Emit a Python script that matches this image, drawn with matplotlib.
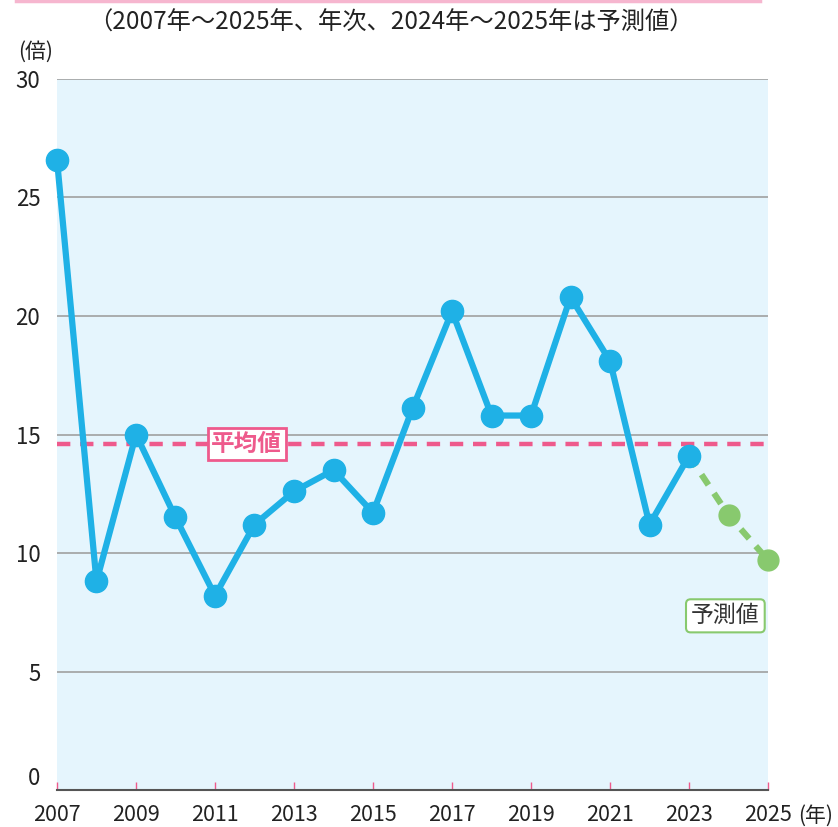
import matplotlib
matplotlib.use("Agg")
import matplotlib.pyplot as plt
from matplotlib.lines import Line2D

plt.rcParams['font.family'] = ['Noto Sans CJK JP', 'DejaVu Sans']

# データ
years = list(range(2007, 2024))
values = [26.6, 8.8, 15.0, 11.5, 8.2, 11.2, 12.6, 13.5, 11.7,
          16.1, 20.2, 15.8, 15.8, 20.8, 18.1, 11.2, 14.1]
pred_years = [2023, 2024, 2025]
pred_values = [14.1, 11.6, 9.7]
avg_value = 14.6
tick_years = list(range(2007, 2026, 2))
yticks = [0, 5, 10, 15, 20, 25, 30]

blue = '#1FB1E6'
green = '#88C96E'
pink = '#EE5A8C'

fig = plt.figure(figsize=(8.38, 8.27), dpi=100)
ax = fig.add_axes([0.068, 0.0447, 0.8485, 0.8598])
ax.set_facecolor('#E5F5FD')

ax.set_xlim(2007, 2025)
ax.set_ylim(0, 30)
ax.set_yticks(yticks)
ax.set_xticks(tick_years)
ax.grid(axis='y', color='#A0A0A0', linewidth=1.2, zorder=1)
ax.set_axisbelow(True)

for s in ['top', 'right', 'left']:
    ax.spines[s].set_visible(False)
ax.spines['bottom'].set_color('#555555')
ax.spines['bottom'].set_linewidth(1.5)

ax.tick_params(axis='y', length=0, labelsize=16, pad=12, colors='#222222')
ax.tick_params(axis='x', direction='in', length=6, color=pink, width=1,
               labelsize=15.5, pad=10, labelcolor='#222222')
# 0のラベルを少し上へ
ax.get_yticklabels()[0].set_va('bottom')
ax.get_yticklabels()[0].set_y(-0.3)

# 平均値
ax.axhline(avg_value, color=pink, linewidth=3.2, dashes=(3, 2.2), zorder=2)
ax.text(2011.8, avg_value, '平均値', color=pink, fontsize=17, fontweight='bold',
        ha='center', va='center', zorder=3,
        bbox=dict(boxstyle='square,pad=0.15', fc='white', ec=pink, lw=2))

# 実績
ax.plot(years, values, color=blue, linewidth=4.5, marker='o', markersize=16,
        zorder=5, clip_on=False)
# 予測
ax.plot(pred_years, pred_values, color=green, linewidth=4.5, dashes=(2, 1.6),
        zorder=4, clip_on=False)
ax.plot(pred_years[1:], pred_values[1:], color=green, linestyle='none',
        marker='o', markersize=15, zorder=4, clip_on=False)

ax.text(2023.92, 7.35, '予測値', color='#333333', fontsize=16.5,
        ha='center', va='center', zorder=3,
        bbox=dict(boxstyle='round,pad=0.22,rounding_size=0.2', fc='white', ec=green, lw=1.5))

fig.text(0.466, 0.972, '（2007年～2025年、年次、2024年～2025年は予測値）',
         ha='center', va='center', fontsize=17.5, color='#222222')
fig.text(0.042, 0.937, '(倍)', ha='center', va='center', fontsize=15, color='#222222')
fig.text(0.973, 0.0135, '(年)', ha='center', va='center', fontsize=15, color='#222222')

fig.add_artist(Line2D([0.019, 0.907], [0.999, 0.999], color='#F6B6CF', linewidth=2.5,
                      transform=fig.transFigure))

fig.savefig('out.png', dpi=100)
